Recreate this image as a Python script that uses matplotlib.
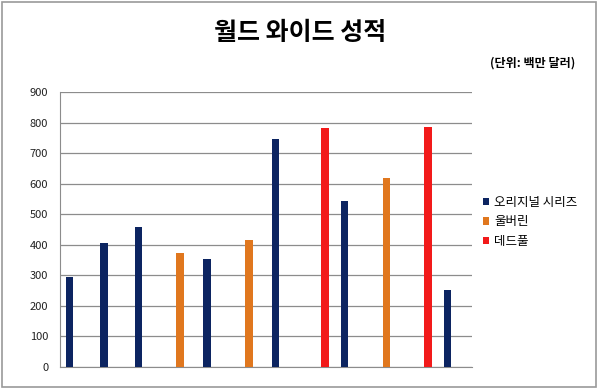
import numpy as np
import matplotlib.pyplot as plt
from matplotlib.patches import Rectangle

plt.rcParams['font.family'] = ['Noto Sans CJK KR', 'DejaVu Sans']

# data (world wide box office, million dollars)
categories = ['X-Men', 'X2', 'X3', 'Origins', 'First Class', 'The Wolverine',
              'DOFP', 'Deadpool', 'Apocalypse', 'Logan', 'Deadpool 2', 'Dark Phoenix']
original = [296, 407, 459, None, 353, None, 746, None, 544, None, None, 252]
wolverine = [None, None, None, 373, None, 414, None, None, None, 619, None, None]
deadpool = [None, None, None, None, None, None, None, 783, None, None, 785, None]
series_names = ['오리지널 시리즈', '울버린', '데드풀']
colors = ['#0c2461', '#e0771e', '#f21a1a']

def to_arr(v):
    return np.array([np.nan if a is None else a for a in v], dtype=float)

fig = plt.figure(figsize=(6, 3.89), dpi=100)
ax = fig.add_axes([0.1, 0.057, 0.687, 0.706])

index = np.arange(len(categories))
bar_width = 0.22
bars = []
for i, (vals, name, c) in enumerate(zip([original, wolverine, deadpool], series_names, colors)):
    b = ax.bar(index + (i - 1) * bar_width, to_arr(vals), bar_width, color=c, label=name, zorder=3)
    bars.append(b)

ax.set_xlim(-0.5, len(categories) - 0.5)
ax.set_ylim(0, 900)
ax.set_yticks(np.arange(0, 901, 100))
ax.set_xticks([])
ax.yaxis.grid(True, color='#8c8c8c', linewidth=0.9, zorder=0)
for s in ['top', 'right']:
    ax.spines[s].set_visible(False)
ax.spines['bottom'].set_color('#8c8c8c')
ax.spines['left'].set_color('#8c8c8c')
ax.tick_params(axis='y', length=0, labelsize=8, pad=8.5, colors='#222222')

fig.text(0.5, 0.915, '월드 와이드 성적', ha='center', va='center', fontsize=18, fontweight='bold')
fig.text(0.958, 0.839, '(단위: 백만 달러)', ha='right', va='center', fontsize=8.7, fontweight='bold')

fig.legend(handles=bars, labels=series_names, loc='upper left', bbox_to_anchor=(0.797, 0.51),
           frameon=False, fontsize=9, handlelength=0.5, handleheight=0.5,
           handletextpad=0.4, labelspacing=0.55, borderaxespad=0)

fig.patches.append(Rectangle((0.004, 0.005), 0.99, 0.99, transform=fig.transFigure,
                             fill=False, edgecolor='#9a9a9a', linewidth=1.2))

fig.savefig('out.png', dpi=100)
